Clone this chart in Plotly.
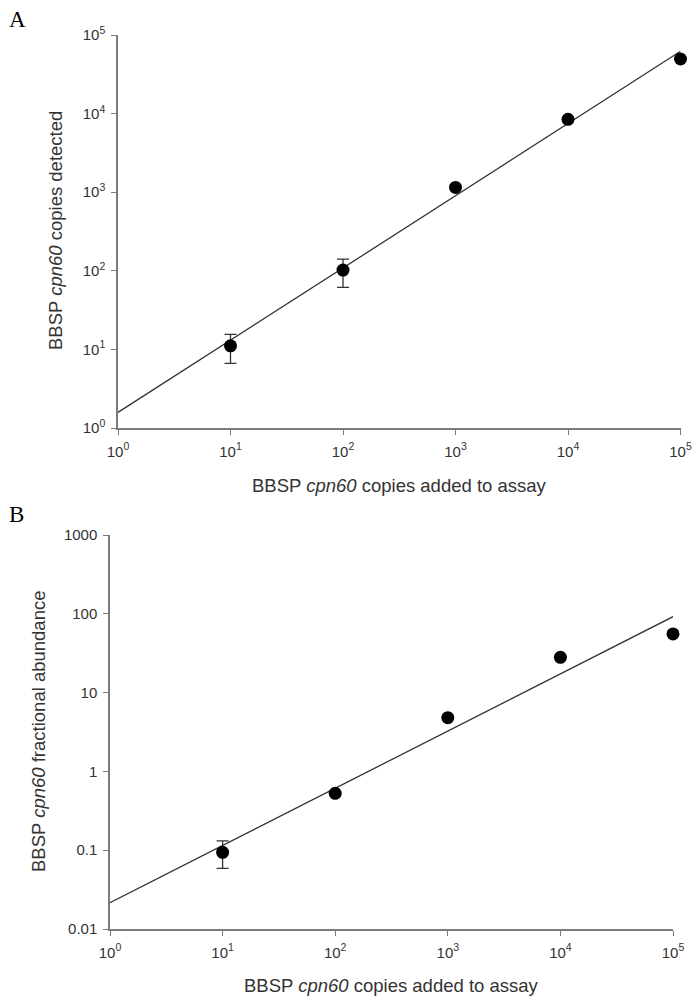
import plotly.graph_objects as go

# ---------------- data ----------------
copies_added = [10, 100, 1000, 10000, 100000]

# Panel A: copies detected
detected_mean = [11.1, 102, 1150, 8450, 49500]
detected_hi = [15.5, 141, 1150, 8450, 49500]
detected_lo = [6.65, 61.6, 1150, 8450, 49500]
fitA_x = [1, 100000]
fitA_y = [1.58, 62000]

# Panel B: fractional abundance
abund_mean = [0.094, 0.527, 4.8, 28, 55.5]
abund_hi = [0.131, 0.527, 4.8, 28, 55.5]
abund_lo = [0.0589, 0.527, 4.8, 28, 55.5]
fitB_x = [1, 100000]
fitB_y = [0.0216, 92]

x_tickvals = [1, 10, 100, 1000, 10000, 100000]
x_ticktext = ["10<sup>0</sup>", "10<sup>1</sup>", "10<sup>2</sup>",
              "10<sup>3</sup>", "10<sup>4</sup>", "10<sup>5</sup>"]
yA_tickvals = [1, 10, 100, 1000, 10000, 100000]
yA_ticktext = x_ticktext
yB_tickvals = [0.01, 0.1, 1, 10, 100, 1000]
yB_ticktext = ["0.01", "0.1", "1", "10", "100", "1000"]

x_title = "BBSP <i>cpn60</i> copies added to assay"
yA_title = "BBSP <i>cpn60</i> copies detected"
yB_title = "BBSP <i>cpn60</i> fractional abundance"

# ---------------- figure ----------------
W, H = 696, 1000
fig = go.Figure()

def err(mean, hi, lo):
    return dict(type="data", symmetric=False,
                array=[h - m for h, m in zip(hi, mean)],
                arrayminus=[m - l for m, l in zip(mean, lo)],
                color="#333333", thickness=1.3, width=6)

line_style = dict(color="#333333", width=1.3)
marker_style = dict(color="black", size=13)

fig.add_trace(go.Scatter(x=fitA_x, y=fitA_y, mode="lines", line=line_style,
                         xaxis="x", yaxis="y", showlegend=False))
fig.add_trace(go.Scatter(x=copies_added, y=detected_mean, mode="markers",
                         marker=marker_style, error_y=err(detected_mean, detected_hi, detected_lo),
                         xaxis="x", yaxis="y", showlegend=False, cliponaxis=False))
fig.add_trace(go.Scatter(x=fitB_x, y=fitB_y, mode="lines", line=line_style,
                         xaxis="x2", yaxis="y2", showlegend=False))
fig.add_trace(go.Scatter(x=copies_added, y=abund_mean, mode="markers",
                         marker=marker_style, error_y=err(abund_mean, abund_hi, abund_lo),
                         xaxis="x2", yaxis="y2", showlegend=False, cliponaxis=False))

tick_font = dict(family="Liberation Sans, Arial, sans-serif", size=15, color="#333333")
axis_common = dict(type="log", showgrid=False, zeroline=False, showline=True,
                   linecolor="#7a7a7a", linewidth=1.5, ticks="outside", ticklen=5,
                   tickwidth=1.3, tickcolor="#7a7a7a", tickfont=tick_font,
                   automargin=False)

# pixel -> paper helpers
def px_x(p):
    return p / W

def px_y(p):
    return 1 - p / H

fig.update_layout(
    width=W, height=H,
    margin=dict(l=0, r=0, t=0, b=0, autoexpand=False),
    paper_bgcolor="white", plot_bgcolor="white",
    xaxis=dict(axis_common, domain=[px_x(118), px_x(680.5)], range=[0, 5],
               tickvals=x_tickvals, ticktext=x_ticktext, anchor="y", ticklabelstandoff=4),
    yaxis=dict(axis_common, domain=[px_y(428), px_y(35)], range=[0, 5],
               tickvals=yA_tickvals, ticktext=yA_ticktext, anchor="x", ticklabelstandoff=3),
    xaxis2=dict(axis_common, domain=[px_x(110), px_x(673)], range=[0, 5],
                tickvals=x_tickvals, ticktext=x_ticktext, anchor="y2", ticklabelstandoff=4),
    yaxis2=dict(axis_common, domain=[px_y(929), px_y(535)], range=[-2, 3],
                tickvals=yB_tickvals, ticktext=yB_ticktext, anchor="x2", ticklabelstandoff=3),
)

title_font = dict(family="Liberation Sans, Arial, sans-serif", size=18.5, color="#333333")
panel_font = dict(family="Liberation Serif, Times New Roman, serif", size=23, color="black")

annotations = [
    dict(text="A", x=px_x(7), y=px_y(5), xanchor="left", yanchor="top", font=panel_font),
    dict(text="B", x=px_x(7), y=px_y(500), xanchor="left", yanchor="top", font=panel_font),
    dict(text=x_title, x=px_x(399), y=px_y(485), xanchor="center", yanchor="middle", font=title_font),
    dict(text=x_title, x=px_x(391), y=px_y(985), xanchor="center", yanchor="middle", font=title_font),
    dict(text=yA_title, x=px_x(56), y=px_y(231), xanchor="center", yanchor="middle",
         textangle=-90, font=title_font),
    dict(text=yB_title, x=px_x(38), y=px_y(732), xanchor="center", yanchor="middle",
         textangle=-90, font=title_font),
]
for a in annotations:
    a.update(xref="paper", yref="paper", showarrow=False)
fig.update_layout(annotations=annotations)

fig.write_html("out.html", config={"displayModeBar": False},
               post_script="document.body.style.margin='0';document.body.style.overflow='hidden';")
